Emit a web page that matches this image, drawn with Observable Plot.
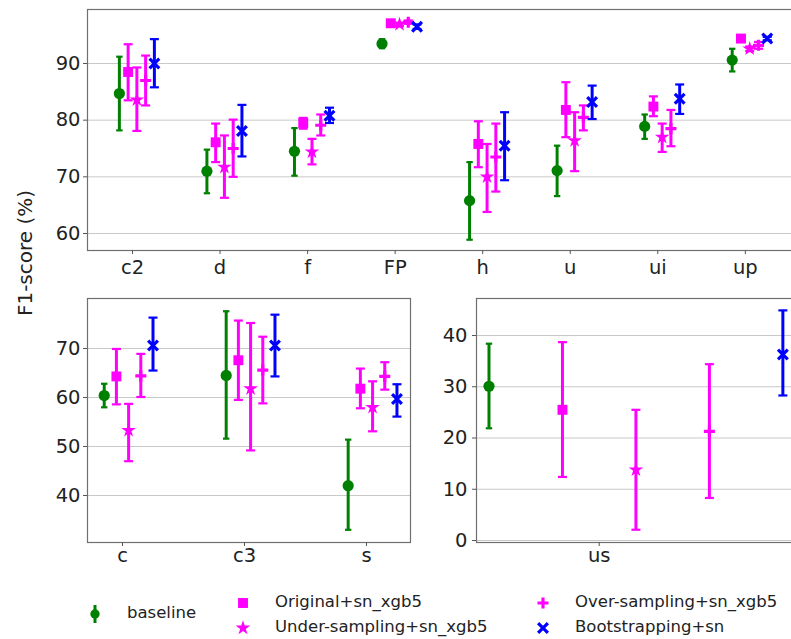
<!DOCTYPE html>
<html>
<head>
<meta charset="utf-8">
<script src="https://cdn.jsdelivr.net/npm/d3@7"></script>
<script src="https://cdn.jsdelivr.net/npm/@observablehq/plot@0.6"></script>
<style>
  html, body { margin: 0; padding: 0; background: #fff; overflow: hidden; }
  #wrap { position: relative; width: 791px; height: 639px; overflow: hidden; font-family: "DejaVu Sans", sans-serif; color: #222; background: #fff; }
  .panel { position: absolute; }
  .ylab { position: absolute; left: 25px; top: 253px; transform: translate(-50%, -50%) rotate(-90deg); font-size: 20px; white-space: nowrap; color: #222; }
  .leg { position: absolute; font-size: 16.5px; white-space: nowrap; color: #222; line-height: 1; }
  .legsym { position: absolute; }
</style>
</head>
<body>
<div id="wrap"></div>
<script>
// ---------- data ----------
const seriesNames = ["baseline", "Original+sn_xgb5", "Under-sampling+sn_xgb5", "Over-sampling+sn_xgb5", "Bootstrapping+sn"];

// top panel
const topCats = ["c2", "d", "f", "FP", "h", "u", "ui", "up"];
const topBaseline = [[84.7, 78.2, 91.2], [71.0, 67.1, 74.8], [74.5, 70.2, 78.6], [93.5, 92.7, 94.3], [65.8, 58.9, 72.6], [71.1, 66.6, 75.5], [78.9, 76.7, 81.0], [90.6, 88.6, 92.6]];
const topOriginal = [[88.5, 83.5, 93.4], [76.1, 72.6, 79.4], [79.5, 78.5, 80.4], [97.1, 96.8, 97.4], [75.8, 71.7, 79.8], [81.8, 77.0, 86.7], [82.4, 80.7, 84.2], [94.4, 94.1, 94.7]];
const topUnder    = [[83.6, 78.1, 89.3], [71.7, 66.3, 77.3], [74.4, 72.2, 76.7], [96.9, 96.6, 97.2], [70.0, 63.8, 75.8], [76.4, 71.0, 81.4], [77.0, 74.4, 79.4], [92.6, 92.2, 93.0]];
const topOver     = [[87.0, 82.6, 91.4], [75.0, 70.0, 80.1], [79.1, 77.3, 81.0], [97.3, 97.0, 97.6], [73.5, 67.4, 79.4], [80.5, 78.2, 82.6], [78.5, 75.4, 81.8], [93.2, 92.6, 93.8]];
const topBoot     = [[90.0, 85.8, 94.3], [78.1, 73.6, 82.7], [80.8, 79.5, 82.2], [96.5, 96.1, 96.9], [75.5, 69.4, 81.4], [83.2, 80.2, 86.1], [83.8, 81.1, 86.3], [94.4, 94.1, 94.7]];
const topTicks = [60, 70, 80, 90];

// bottom-left panel
const blCats = ["c", "c3", "s"];
const blBaseline = [[60.4, 58.0, 62.8], [64.5, 51.6, 77.6], [42.0, 33.0, 51.4]];
const blOriginal = [[64.3, 58.6, 69.9], [67.6, 59.5, 75.7], [61.8, 57.8, 65.9]];
const blUnder    = [[53.3, 47.0, 58.7], [61.8, 49.2, 75.2], [58.0, 53.1, 63.3]];
const blOver     = [[64.4, 60.1, 68.9], [65.6, 58.8, 72.4], [64.3, 61.6, 67.2]];
const blBoot     = [[70.6, 65.5, 76.3], [70.6, 64.3, 76.9], [59.7, 56.1, 62.7]];
const blTicks = [40, 50, 60, 70];

// bottom-right panel
const brCats = ["us"];
const brBaseline = [[30.1, 21.9, 38.4]];
const brOriginal = [[25.5, 12.4, 38.7]];
const brUnder    = [[13.8, 2.1, 25.5]];
const brOver     = [[21.3, 8.3, 34.4]];
const brBoot     = [[36.3, 28.3, 44.9]];
const brTicks = [0, 10, 20, 30, 40];

(function () {
// ---------- styling ----------
const seriesColors = ["green", "#ff00ff", "#ff00ff", "#ff00ff", "#0000ff"];
const seriesOffsets = [-0.15, -0.05, 0.05, 0.15, 0.25];

function rad(size) { return Math.sqrt(size / Math.PI); }
const capSym = { draw(c, s) { const r = rad(s); c.moveTo(-r, 0); c.lineTo(r, 0); } };
const plusSym = { draw(c, s) { const r = rad(s); c.moveTo(-r, 0); c.lineTo(r, 0); c.moveTo(0, -r); c.lineTo(0, r); } };
const timesSym = { draw(c, s) { const r = rad(s) * 0.75; c.moveTo(-r, -r); c.lineTo(r, r); c.moveTo(-r, r); c.lineTo(r, -r); } };

const markerDefs = [
  { symbol: "circle", r: 5.6, filled: true },
  { symbol: "square", r: 5.6, filled: true },
  { symbol: "star", r: 4.6, filled: true },
  { symbol: plusSym, r: 5.5, filled: false },
  { symbol: timesSym, r: 6.5, filled: false }
];
const capR = [3.2, 4.5, 4.5, 4.5, 4.5];

function toRows(seriesArrays) {
  return seriesArrays.map((arr, s) => arr.map((v, i) => ({ s, i, x: i + seriesOffsets[s], mean: v[0], lo: v[1], hi: v[2] })));
}

function seriesMarks(seriesArrays) {
  const marks = [];
  toRows(seriesArrays).forEach((rows, s) => {
    const col = seriesColors[s];
    marks.push(Plot.ruleX(rows, { x: "x", y1: "lo", y2: "hi", stroke: col, strokeWidth: 3 }));
    marks.push(Plot.dot(rows, { x: "x", y: "lo", symbol: capSym, r: capR[s], stroke: col, strokeWidth: 2.2, fill: "none" }));
    marks.push(Plot.dot(rows, { x: "x", y: "hi", symbol: capSym, r: capR[s], stroke: col, strokeWidth: 2.2, fill: "none" }));
    const m = markerDefs[s];
    if (m.filled) {
      marks.push(Plot.dot(rows, { x: "x", y: "mean", symbol: m.symbol, r: m.r, fill: col, stroke: "none" }));
    } else {
      marks.push(Plot.dot(rows, { x: "x", y: "mean", symbol: m.symbol, r: m.r, fill: "none", stroke: col, strokeWidth: 3.2 }));
    }
  });
  return marks;
}

const baseStyle = { background: "transparent", maxWidth: "none", overflow: "visible", fontFamily: "DejaVu Sans, sans-serif", fontSize: "19.5px", color: "#222" };

function panel({ width, height, mL, mR, mT, mB, xDomain, yDomain, cats, yTicks, seriesArrays, xPad, yPad }) {
  return Plot.plot({
    width, height, marginLeft: mL, marginRight: mR, marginTop: mT, marginBottom: mB,
    style: baseStyle,
    x: { type: "linear", domain: xDomain, axis: null },
    y: { type: "linear", domain: yDomain, axis: null },
    marks: [
      Plot.gridY(yTicks, { stroke: "#c9c9c9", strokeOpacity: 1, strokeWidth: 1 }),
      Plot.frame({ stroke: "#6f6f6f", strokeWidth: 1.2 }),
      Plot.axisY({ ticks: yTicks, tickSize: 4, tickPadding: yPad, label: null, stroke: "#555" }),
      Plot.axisX({ ticks: d3.range(cats.length), tickFormat: i => cats[i], tickSize: 4, tickPadding: xPad, label: null, stroke: "#555" }),
      ...seriesMarks(seriesArrays)
    ]
  });
}

const wrap = document.getElementById("wrap");

const topPlot = panel({
  width: 800, height: 290, mL: 87, mR: 0, mT: 9, mB: 40,
  xDomain: [-0.514, 7.63], yDomain: [57.0, 99.53],
  cats: topCats, yTicks: topTicks, xPad: 6, yPad: 3,
  seriesArrays: [topBaseline, topOriginal, topUnder, topOver, topBoot]
});
topPlot.classList.add("panel"); topPlot.style.left = "0px"; topPlot.style.top = "0px";
wrap.appendChild(topPlot);

const blPlot = panel({
  width: 411, height: 300, mL: 87, mR: 1, mT: 18, mB: 38,
  xDomain: [-0.287, 2.361], yDomain: [30.41, 80.2],
  cats: blCats, yTicks: blTicks, xPad: 2, yPad: 3,
  seriesArrays: [blBaseline, blOriginal, blUnder, blOver, blBoot]
});
blPlot.classList.add("panel"); blPlot.style.left = "0px"; blPlot.style.top = "280px";
wrap.appendChild(blPlot);

const brPlot = panel({
  width: 410, height: 300, mL: 86, mR: 0, mT: 18, mB: 38,
  xDomain: [-0.167, 0.274], yDomain: [-0.39, 47.22],
  cats: brCats, yTicks: brTicks, xPad: 2, yPad: 5,
  seriesArrays: [brBaseline, brOriginal, brUnder, brOver, brBoot]
});
brPlot.classList.add("panel"); brPlot.style.left = "390px"; brPlot.style.top = "280px";
wrap.appendChild(brPlot);

const yl = document.createElement("div");
yl.className = "ylab";
yl.textContent = "F1-score (%)";
wrap.appendChild(yl);

const legendPos = [
  { mx: 95, my: 614, tx: 127 },
  { mx: 243, my: 603, tx: 275 },
  { mx: 243, my: 628, tx: 275 },
  { mx: 543, my: 603, tx: 575 },
  { mx: 543, my: 628, tx: 575 }
];
seriesNames.forEach((name, s) => {
  const p = legendPos[s];
  const svg = d3.create("svg").attr("class", "legsym").attr("width", 30).attr("height", 30)
    .style("left", (p.mx - 15) + "px").style("top", (p.my - 15) + "px");
  const g = svg.append("g").attr("transform", "translate(15,15)");
  const col = seriesColors[s];
  const m = markerDefs[s];
  if (s === 0) {
    g.append("line").attr("x1", 0).attr("x2", 0).attr("y1", -9).attr("y2", 9).attr("stroke", col).attr("stroke-width", 3);
  }
  const symObj = typeof m.symbol === "string"
    ? { circle: d3.symbolCircle, square: d3.symbolSquare, star: d3.symbolStar }[m.symbol]
    : m.symbol;
  const size = Math.PI * m.r * m.r * (s === 0 ? 0.7 : 1);
  const path = d3.symbol(symObj, size)();
  if (m.filled) g.append("path").attr("d", path).attr("fill", col);
  else g.append("path").attr("d", path).attr("fill", "none").attr("stroke", col).attr("stroke-width", 3.2);
  wrap.appendChild(svg.node());

  const t = document.createElement("div");
  t.className = "leg";
  t.textContent = name;
  t.style.left = p.tx + "px";
  t.style.top = (p.my - 9) + "px";
  wrap.appendChild(t);
});
})();
</script>
</body>
</html>
